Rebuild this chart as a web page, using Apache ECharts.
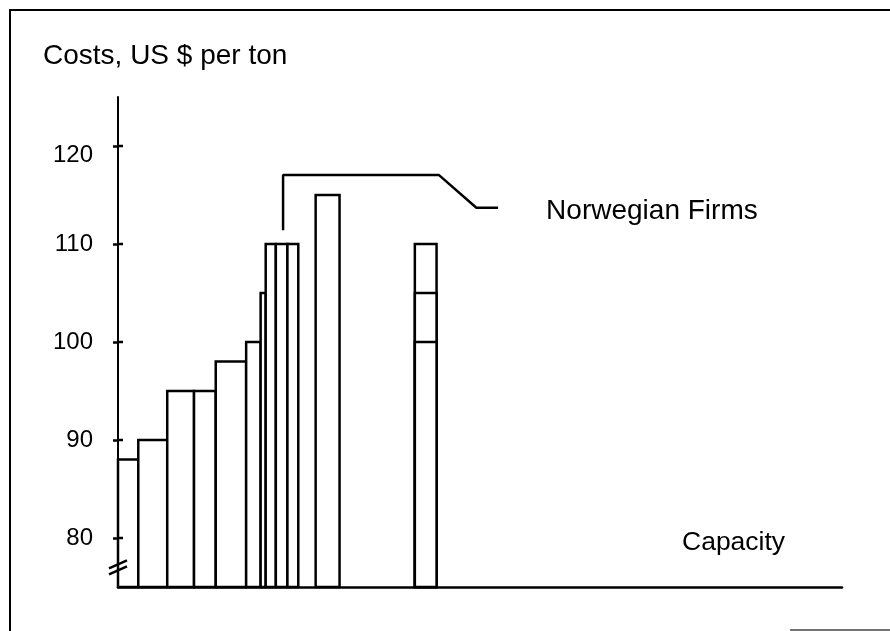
<!DOCTYPE html>
<html>
<head>
<meta charset="utf-8">
<script src="https://cdn.jsdelivr.net/npm/echarts@6/dist/echarts.min.js"></script>
<style>html,body{margin:0;padding:0;background:#fff;}#main{width:890px;height:631px;}</style>
</head>
<body>
<div id="main"></div>
<script>
// ---- data ----
const barStart = [0, 2.8, 6.8, 10.5, 13.5, 17.7, 19.7, 20.4, 21.8, 23.4, 27.3, 41.0, 41.0, 41.0];
const barEnd   = [2.8, 6.8, 10.5, 13.5, 17.7, 19.7, 20.4, 21.8, 23.4, 24.9, 30.6, 44.0, 44.0, 44.0];
const costs    = [88, 90, 95, 95, 98, 100, 105, 110, 110, 110, 115, 110, 105, 100];
const yTicks   = [80, 90, 100, 110, 120];
const bracketX = [22.8, 22.8, 44.3, 49.5, 52.5];
const bracketY = [111.4, 117.05, 117.05, 113.7, 113.7];
const yMin = 75, yMax = 125, xMin = 0, xMax = 100;
const breakValue = 77.1;

const barData = barStart.map((s, i) => [s, barEnd[i], costs[i]]);
const bracketData = bracketX.map((x, i) => [x, bracketY[i]]);

const chart = echarts.init(document.getElementById('main'), null, {renderer: 'canvas'});
const FONT = '"Liberation Sans", Arial, Helvetica, sans-serif';

const option = {
  animation: false,
  backgroundColor: '#fff',
  title: [
    {text: 'Costs, US $ per ton', left: 38, top: 37,
     textStyle: {fontFamily: FONT, fontSize: 28, fontWeight: 'normal', color: '#000'}},
    {text: 'Capacity', left: 677, top: 524,
     textStyle: {fontFamily: FONT, fontSize: 26.5, fontWeight: 'normal', color: '#000'}}
  ],
  grid: {left: 118, right: 48, top: 97, bottom: 44, containLabel: false},
  xAxis: {
    type: 'value', min: xMin, max: xMax,
    axisLine: {show: true, lineStyle: {color: '#000', width: 2.5}},
    axisTick: {show: false}, axisLabel: {show: false}, splitLine: {show: false}
  },
  yAxis: {
    type: 'value', min: yMin, max: yMax, position: 'left',
    axisLine: {show: true, onZero: false, lineStyle: {color: '#000', width: 2}},
    axisTick: {show: true, inside: false, length: 5, customValues: yTicks, lineStyle: {color: '#000', width: 2.5}},
    axisLabel: {
      show: true, customValues: yTicks, margin: 25, fontFamily: FONT, fontSize: 24, color: '#000',
      formatter: function (v) { return v === 120 ? '{low|' + v + '}' : String(v); },
      rich: {low: {fontFamily: FONT, fontSize: 24, color: '#000', padding: [18, 0, 0, 0]}}
    },
    splitLine: {show: false}
  },
  series: [
    {
      type: 'custom',
      data: barData,
      encode: {x: [0, 1], y: 2},
      renderItem: function (params, api) {
        const x0 = api.value(0), x1 = api.value(1), c = api.value(2);
        const pTop = api.coord([x0, c]);
        const pBot = api.coord([x1, yMin]);
        return {
          type: 'rect',
          shape: {x: pTop[0], y: pTop[1], width: pBot[0] - pTop[0], height: pBot[1] - pTop[1]},
          style: {fill: '#fff', stroke: '#000', lineWidth: 2.5}
        };
      },
      z: 2
    },
    {
      type: 'line',
      data: bracketData,
      symbol: 'none',
      lineStyle: {color: '#000', width: 2.5},
      endLabel: {show: true, formatter: 'Norwegian Firms', distance: 48, offset: [0, 4],
                 fontFamily: FONT, fontSize: 28, color: '#000'},
      z: 3
    }
  ]
};
chart.setOption(option);

// decorations: inner halves of the crossing ticks, axis break mark, frame
const graphics = [
  {type: 'rect', shape: {x: 10, y: 10, width: 900, height: 640}, style: {fill: null, stroke: '#000', lineWidth: 2}, silent: true, z: 10},
  {type: 'line', shape: {x1: 790, y1: 630, x2: 890, y2: 630}, style: {stroke: '#444', lineWidth: 1.5}, z: 10}
];
yTicks.forEach(function (v) {
  const p = chart.convertToPixel({gridIndex: 0}, [xMin, v]);
  graphics.push({type: 'line', shape: {x1: p[0], y1: p[1], x2: p[0] + 5, y2: p[1]}, style: {stroke: '#000', lineWidth: 2.5}, z: 10});
});
const c = chart.convertToPixel({gridIndex: 0}, [xMin, breakValue]);
graphics.push({type: 'line', shape: {x1: c[0] - 9, y1: c[1] + 2, x2: c[0] + 9, y2: c[1] - 6}, style: {stroke: '#000', lineWidth: 2.5}, z: 10});
graphics.push({type: 'line', shape: {x1: c[0] - 9, y1: c[1] + 8, x2: c[0] + 9, y2: c[1]}, style: {stroke: '#000', lineWidth: 2.5}, z: 10});
chart.setOption({graphic: graphics});
</script>
</body>
</html>
